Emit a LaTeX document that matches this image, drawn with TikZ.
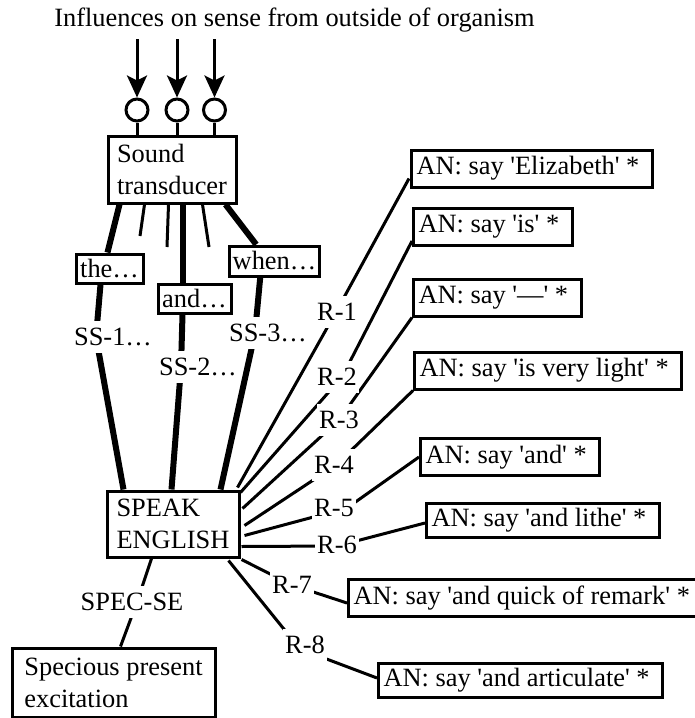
\documentclass[tikz,border=0pt]{standalone}
\usetikzlibrary{arrows.meta}
% plain Times-metric face, loaded without TeX ligature mapping so quotes stay straight
\font\dgfont="Liberation Serif" at 26.4pt
\begin{document}
\begin{tikzpicture}[x=1pt,y=-1pt,
  every node/.style={font=\dgfont},
  box/.style={draw, line width=3pt, inner xsep=5pt, inner ysep=0pt, minimum height=37pt},
  anbox/.style={box, anchor=west, execute at end node={\kern8pt}},
  tallbox/.style={box, align=left, inner xsep=9pt, font={\dgfont\baselineskip=32pt}},
  wordbox/.style={box, minimum height=29pt, inner xsep=3pt},
  tag/.style={fill=white, inner xsep=2pt, inner ysep=7pt},
  wire/.style={line width=3pt, line join=round},
  heavy/.style={line width=6pt, line join=round},
  sensor/.style={draw, line width=3pt, circle, minimum size=22pt, inner sep=0pt},
  influx/.style={line width=3pt, -{Stealth[length=22pt,width=20pt,inset=5pt]}},
]
\useasboundingbox (0,0) rectangle (695,718);

% heading
\node[anchor=base] (title) at (294.5,26) {Influences on sense from outside of organism};

% receptors and incoming influences
\node[sensor] (s1) at (137,110) {};
\node[sensor] (s2) at (177,110) {};
\node[sensor] (s3) at (214.5,110) {};
\coordinate (in1) at (137,39);
\coordinate (in2) at (177,39);
\coordinate (in3) at (214.5,39);
\draw[influx] (in1) -- (s1.north);
\draw[influx] (in2) -- (s2.north);
\draw[influx] (in3) -- (s3.north);

% boxes
\node[tallbox, minimum width=128pt, minimum height=67pt] (snd) at (172,169.5) {Sound\\transducer};
\node[wordbox, minimum width=67pt] (the) at (109.5,268.5) {the…};
\node[wordbox, minimum width=73pt] (and) at (194.5,298.5) {and…};
\node[wordbox, minimum width=87pt, minimum height=30pt] (when) at (274.5,261) {when…};
\node[tallbox, minimum width=132pt, minimum height=66pt] (speak) at (173,524) {SPEAK\\ENGLISH};
\node[tallbox, minimum width=203pt, minimum height=69pt, inner xsep=11pt] (spec) at (113.5,682.5) {Specious present\\excitation};

\node[anbox] (an1) at (410,168.5) {AN: say 'Elizabeth' *};
\node[anbox] (an2) at (412,227) {AN: say 'is' *};
\node[anbox] (an3) at (412,297.5) {AN: say '—' *};
\node[anbox] (an4) at (413,370.5) {AN: say 'is very light' *};
\node[anbox] (an5) at (419,457) {AN: say 'and' *};
\node[anbox, minimum height=34pt] (an6) at (425,520) {AN: say 'and lithe' *};
\node[anbox] (an7) at (347,598) {AN: say 'and quick of remark' *};
\node[anbox, minimum height=34pt] (an8) at (377,680) {AN: say 'and articulate' *};

% receptor stubs into the transducer
\draw[wire] (s1.south) -- (s1.south |- snd.north);
\draw[wire] (s2.south) -- (s2.south |- snd.north);
\draw[wire] (s3.south) -- (s3.south |- snd.north);

% transducer outputs
\coordinate (t1) at (140,236);
\coordinate (t2) at (167,247);
\coordinate (t3) at (209,247);
\draw[heavy] ([shift={(13,0)}]snd.south west) -- ([shift={(33,0)}]the.north west);
\draw[wire] ([shift={(38,0)}]snd.south west) -- (t1);
\draw[wire] ([shift={(62,0)}]snd.south west) -- (t2);
\draw[heavy] ([shift={(76,0)}]snd.south west) -- ([shift={(26,0)}]and.north west);
\draw[wire] ([shift={(96,0)}]snd.south west) -- (t3);
\draw[heavy] ([shift={(119,0)}]snd.south west) -- ([shift={(28,0)}]when.north west);

% word detectors into SPEAK ENGLISH
\coordinate (b1) at (96,337);
\coordinate (b2) at (181,367);
\coordinate (b3) at (255,333);
\draw[heavy] ([shift={(26,0)}]the.south west) -- (b1) -- ([shift={(18,0)}]speak.north west);
\draw[heavy] ([shift={(26,0)}]and.south west) -- (b2) -- ([shift={(66,0)}]speak.north west);
\draw[heavy] ([shift={(32,0)}]when.south west) -- (b3) -- ([shift={(115,0)}]speak.north west);

% responses
\coordinate (k1) at (336,312);
\coordinate (k2) at (342,377);
\coordinate (k3) at (339,420);
\coordinate (k4) at (336,465);
\coordinate (k5) at (347,508);
\coordinate (k6) at (337,546);
\coordinate (k7) at (292,585);
\coordinate (k8) at (300,649);
\draw[wire] ([shift={(-3,-2)}]speak.north east) -- (k1) -- ([shift={(-1,-10)}]an1.south west);
\draw[wire] ([shift={(0,3)}]speak.north east) -- (k2) -- ([shift={(0,-6)}]an2.south west);
\draw[wire] ([shift={(2,19)}]speak.north east) -- (k3) -- (an3.south west);
\draw[wire] ([shift={(4,36)}]speak.north east) -- (k4) -- (an4.south west);
\draw[wire] ([shift={(4,46)}]speak.north east) -- (k5) -- (an5.west);
\draw[wire] ([shift={(1,57)}]speak.north east) -- (k6) -- ([shift={(0,3)}]an6.west);
\draw[wire] ([shift={(1,1)}]speak.south east) -- (k7) -- ([shift={(0,5)}]an7.west);
\draw[wire] ([shift={(-12,2)}]speak.south east) -- (k8) -- ([shift={(0,-2)}]an8.west);

% specious present
\coordinate (kse) at (137,602);
\draw[wire] ([shift={(46,0)}]speak.south west) -- (kse) -- ([shift={(110,0)}]spec.north west);

% connector labels
\node[tag] (ss1) at (113,337) {SS-1…};
\node[tag] (ss2) at (198,367) {SS-2…};
\node[tag] (ss3) at (268,333) {SS-3…};
\node[tag] (r1) at (337,312) {R-1};
\node[tag] (r2) at (337,377) {R-2};
\node[tag] (r3) at (339,420) {R-3};
\node[tag] (r4) at (334,465) {R-4};
\node[tag] (r5) at (334,508) {R-5};
\node[tag] (r6) at (337,545) {R-6};
\node[tag] (r7) at (292,585) {R-7};
\node[tag] (r8) at (305,645) {R-8};
\node[tag] (specse) at (132,602) {SPEC-SE};
\end{tikzpicture}
\end{document}
